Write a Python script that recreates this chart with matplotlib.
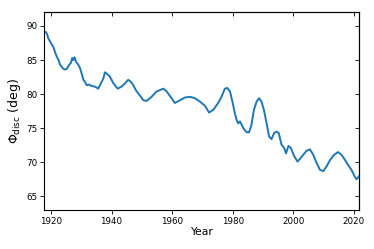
import matplotlib
matplotlib.use("Agg")
import matplotlib.pyplot as plt

years = [1918.3, 1918.7, 1919.1, 1919.6, 1920.1, 1920.8, 1921.3, 1921.9, 1922.5, 1923.0, 1923.9, 1924.5,
         1925.2, 1926.0, 1926.6, 1927.0, 1927.4, 1927.8, 1928.3, 1928.9, 1929.6, 1930.2, 1930.7, 1931.2,
         1931.8, 1932.6, 1933.4, 1934.5, 1935.6, 1936.5, 1937.3, 1937.8, 1938.4, 1939.0, 1939.5, 1940.6,
         1942.0, 1943.3, 1944.5, 1945.5, 1946.4, 1947.2, 1948.0, 1948.8, 1949.7, 1950.5, 1951.6, 1953.2,
         1954.9, 1956.0, 1957.1, 1958.2, 1959.8, 1960.9, 1962.6, 1964.2, 1965.9, 1967.5, 1969.2, 1970.8,
         1972.2, 1973.6, 1975.2, 1976.3, 1977.4, 1978.2, 1979.1, 1980.0, 1980.7, 1981.3, 1981.8, 1982.4,
         1983.5, 1984.6, 1985.4, 1986.2, 1987.0, 1987.9, 1988.7, 1989.5, 1990.3, 1991.2, 1992.0, 1992.8,
         1993.7, 1994.5, 1995.2, 1996.1, 1997.0, 1997.6, 1998.4, 1999.2, 2000.3, 2001.4, 2002.2, 2003.3,
         2004.4, 2005.5, 2006.6, 2007.7, 2008.8, 2009.9, 2011.0, 2012.1, 2013.5, 2014.8, 2015.9, 2017.0,
         2018.1, 2019.2, 2020.3, 2020.9, 2021.6]
phi = [89.1, 88.8, 88.2, 87.8, 87.4, 86.9, 86.2, 85.5, 85.0, 84.3, 83.8, 83.6,
       83.7, 84.3, 84.6, 85.3, 85.0, 85.4, 84.7, 84.4, 83.8, 82.9, 82.1, 81.8,
       81.3, 81.4, 81.2, 81.1, 80.8, 81.6, 82.3, 83.2, 83.0, 82.8, 82.5, 81.6,
       80.8, 81.1, 81.6, 82.1, 81.8, 81.3, 80.6, 80.1, 79.6, 79.1, 79.0, 79.6,
       80.4, 80.6, 80.8, 80.4, 79.4, 78.7, 79.1, 79.5, 79.6, 79.4, 78.9, 78.3,
       77.3, 77.7, 78.7, 79.6, 80.8, 80.9, 80.4, 78.7, 77.2, 76.2, 75.7, 76.0,
       75.0, 74.4, 74.4, 75.5, 77.7, 78.9, 79.4, 78.9, 77.7, 75.7, 73.8, 73.4,
       74.3, 74.5, 74.3, 72.6, 72.1, 71.3, 72.4, 72.1, 70.9, 70.1, 70.5, 71.1,
       71.7, 71.9, 71.1, 69.9, 68.9, 68.7, 69.4, 70.3, 71.1, 71.5, 71.1, 70.4,
       69.6, 68.9, 67.9, 67.5, 67.9]

xticks = [1920, 1940, 1960, 1980, 2000, 2020]
yticks = [65, 70, 75, 80, 85, 90]

fig = plt.figure(figsize=(3.74, 2.49), dpi=100)
ax = fig.add_axes([0.1185, 0.1566, 0.8422, 0.794])
ax.plot(years, phi, color="#1f77b4", lw=1.4)
ax.set_xlim(1917.8, 2021.8)
ax.set_ylim(63, 92)
ax.set_xticks(xticks)
ax.set_yticks(yticks)
ax.tick_params(labelsize=6.3, length=3, width=0.6, pad=2)
ax.set_xlabel("Year", fontsize=7.8, labelpad=1)
ax.set_ylabel(r"$\Phi_{\rm disc}$ (deg)", fontsize=9, labelpad=2)
for s in ax.spines.values():
    s.set_linewidth(0.8)

sx = ax.secondary_xaxis("top")
sx.set_xticks(xticks)
sx.tick_params(direction="in", labeltop=False, length=3, width=0.6)
sy = ax.secondary_yaxis("right")
sy.set_yticks(yticks)
sy.tick_params(direction="in", labelright=False, length=3, width=0.6)

fig.savefig("out.png", dpi=100)
